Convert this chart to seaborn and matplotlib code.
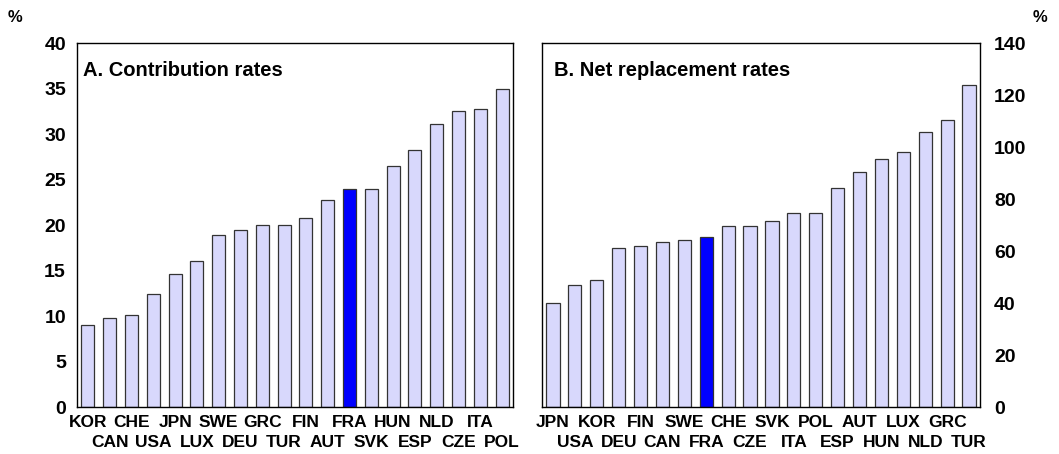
import pandas as pd
import matplotlib.pyplot as plt
import seaborn as sns

# Panel A: contribution rates
contrib_countries = ['KOR', 'CAN', 'CHE', 'USA', 'JPN', 'LUX', 'SWE', 'DEU', 'GRC', 'TUR',
                     'FIN', 'AUT', 'FRA', 'SVK', 'HUN', 'ESP', 'NLD', 'CZE', 'ITA', 'POL']
contrib_values = [9.0, 9.8, 10.1, 12.4, 14.6, 16.0, 18.9, 19.5, 20.0, 20.0,
                  20.8, 22.7, 24.0, 24.0, 26.5, 28.2, 31.1, 32.5, 32.7, 35.0]

# Panel B: net replacement rates
repl_countries = ['JPN', 'USA', 'KOR', 'DEU', 'FIN', 'CAN', 'SWE', 'FRA', 'CHE', 'CZE',
                  'SVK', 'ITA', 'POL', 'ESP', 'AUT', 'HUN', 'LUX', 'NLD', 'GRC', 'TUR']
repl_values = [40.1, 47.0, 49.0, 61.3, 61.8, 63.6, 64.2, 65.3, 69.5, 69.7,
               71.5, 74.8, 74.8, 84.1, 90.3, 95.3, 98.1, 105.6, 110.3, 123.9]

sns.set_theme(style="white")
plt.rcParams['font.family'] = ['Liberation Sans', 'DejaVu Sans']
plt.rcParams['font.weight'] = 'bold'
for k in ['text.color', 'xtick.color', 'ytick.color', 'axes.labelcolor']:
    plt.rcParams[k] = 'black'

light = '#D8D8FC'
dark = '#0000FF'


def draw_panel(ax, countries, values, title, ylim, yticks, right=False):
    df = pd.DataFrame({'country': countries, 'value': values})
    pal = {c: (dark if c == 'FRA' else light) for c in countries}
    sns.barplot(data=df, x='country', y='value', hue='country', palette=pal,
                order=countries, legend=False, width=0.6, saturation=1,
                edgecolor='#333333', linewidth=0.9, ax=ax)
    ax.set_xlim(-0.5, len(countries) - 0.5)
    ax.set_ylim(*ylim)
    ax.set_yticks(yticks)
    ax.set_yticklabels([str(t) for t in yticks], fontsize=14, fontweight='bold')

    # labels alternate between two rows: top row on major ticks, bottom row on minor
    idx = list(range(len(countries)))
    ax.set_xticks(idx[0::2])
    ax.set_xticklabels(countries[0::2], fontsize=12.5, fontweight='bold')
    ax.set_xticks(idx[1::2], minor=True)
    ax.set_xticklabels(countries[1::2], minor=True, fontsize=12.5, fontweight='bold')
    for lab in ax.get_xticklabels() + ax.get_xticklabels(minor=True):
        if lab.get_text() == 'FRA':
            lab.set_fontweight('heavy')
    ax.tick_params(axis='x', which='major', length=0, pad=6)
    ax.tick_params(axis='x', which='minor', length=0, pad=20)
    if right:
        ax.yaxis.tick_right()
        ax.tick_params(axis='y', length=0, pad=10)
    else:
        ax.tick_params(axis='y', length=0, pad=8)
    ax.set_xlabel('')
    ax.set_ylabel('')
    for s in ax.spines.values():
        s.set_visible(True)
        s.set_color('black')
        s.set_linewidth(1.0)
    ax.text(0.014 if not right else 0.027, 0.925, title, transform=ax.transAxes,
            fontsize=14.5, fontweight='bold', va='center', ha='left')


fig = plt.figure(figsize=(10.59, 4.54), dpi=100)
ax1 = fig.add_axes([0.0727, 0.1035, 0.4117, 0.8017])
ax2 = fig.add_axes([0.5118, 0.1035, 0.4136, 0.8017])

draw_panel(ax1, contrib_countries, contrib_values, 'A. Contribution rates',
           (0, 40), [0, 5, 10, 15, 20, 25, 30, 35, 40])
draw_panel(ax2, repl_countries, repl_values, 'B. Net replacement rates',
           (0, 140), [0, 20, 40, 60, 80, 100, 120, 140], right=True)

fig.text(15 / 1059, 1 - 18 / 454, '%', fontsize=12, fontweight='bold', ha='center', va='center')
fig.text(1040 / 1059, 1 - 18 / 454, '%', fontsize=12, fontweight='bold', ha='center', va='center')

fig.savefig('out.png', dpi=100)
